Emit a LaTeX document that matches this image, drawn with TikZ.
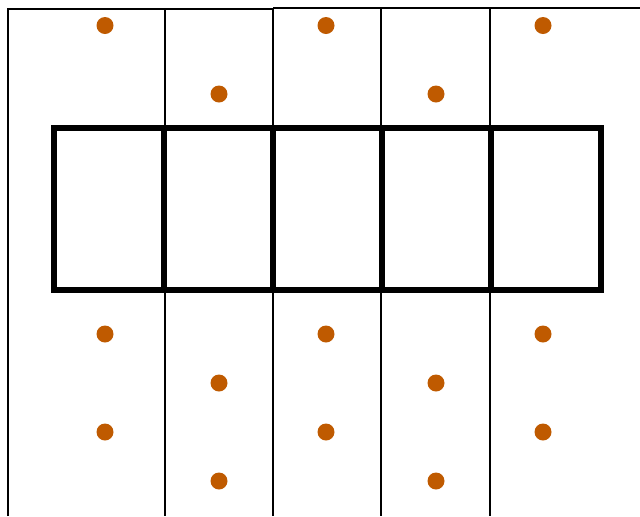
\documentclass[tikz,border=0pt]{standalone}
\usepackage{xcolor}
\usepackage{tikz}
\definecolor{dotx}{HTML}{BF5A00}
\tikzset{
  thin line/.style={black,line width=1.4pt},
  thick box/.style={black,line width=3.6pt},
  dot/.style={fill=dotx}
}
\begin{document}
\begin{tikzpicture}[x=0.025cm,y=-0.025cm]
\useasboundingbox (0,0) rectangle (640,516);
% thin grid
\draw[thin line] (8,516)--(8,9)--(273,9);
\draw[thin line] (273,8.3)--(640,8.3);
\foreach \x in {165,273,381,490} \draw[thin line] (\x,8.3)--(\x,516);
% thick row of cells
\draw[thick box] (54,128) rectangle (601,290);
\foreach \x in {164,273,382,491} \draw[thick box] (\x,128)--(\x,290);
% dots
\foreach \x in {105,326,543} \foreach \y in {25.5,334,432} \fill[dot] (\x,\y) circle (8.5);
\foreach \x in {219,436} \foreach \y in {94,383,481} \fill[dot] (\x,\y) circle (8.5);
\end{tikzpicture}
\end{document}
